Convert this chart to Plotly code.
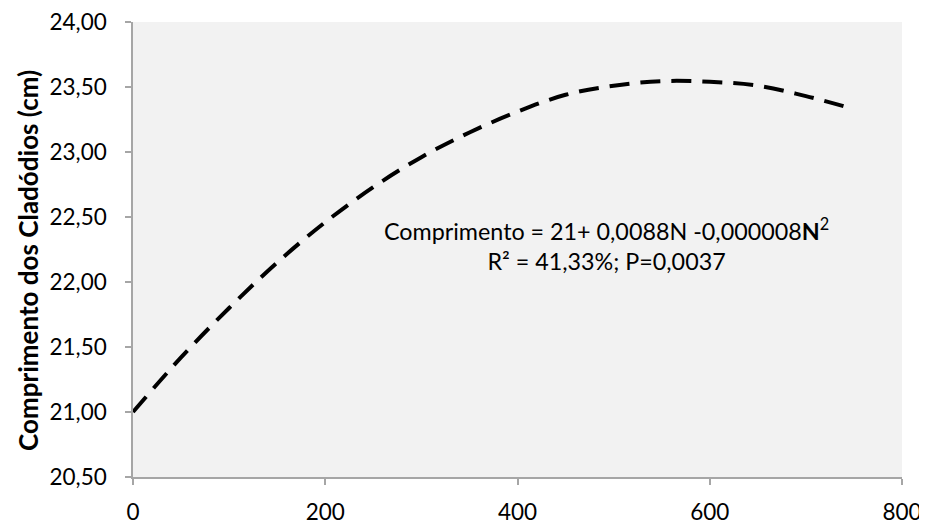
import plotly.graph_objects as go

# Values
n_values = [0, 50, 100, 150, 200, 250, 300, 350, 400, 450, 500, 550, 600, 650, 700, 750]
comprimento = [21.00, 21.42, 21.80, 22.15, 22.46, 22.73, 22.96, 23.15, 23.31, 23.44, 23.51, 23.545, 23.54, 23.51, 23.43, 23.33]

x_ticks = [0, 200, 400, 600, 800]
y_ticks = [20.5, 21.0, 21.5, 22.0, 22.5, 23.0, 23.5, 24.0]

y_title = "Comprimento dos Cladódios (cm)"
equation = "Comprimento = 21+ 0,0088N -0,000008<b>N</b><sup>2</sup><br>R² = 41,33%; P=0,0037"

FONT = "Lato, Carlito, Calibri, sans-serif"

fig = go.Figure()
fig.add_trace(go.Scatter(
    x=n_values, y=comprimento, mode="lines",
    line=dict(color="black", width=4, dash="20px,11px", shape="spline"),
    showlegend=False, hoverinfo="skip",
))

fig.add_annotation(
    x=493, y=22.29, xref="x", yref="y", text=equation, showarrow=False,
    align="center", font=dict(family=FONT, size=23.3, color="black"),
)

# vertical axis title
fig.add_annotation(
    x=0, y=0.475, xref="paper", yref="paper", xshift=-105, text="<b>" + y_title + "</b>",
    textangle=-90, showarrow=False, xanchor="center", yanchor="middle",
    font=dict(family=FONT, size=26, color="black"),
)

axis_common = dict(
    showgrid=False, zeroline=False, showline=True, linecolor="#a6a6a6", linewidth=1.5,
    ticks="outside", ticklen=6, tickcolor="#a6a6a6", tickwidth=1.5, automargin=False,
    ticklabeloverflow="allow",
    tickfont=dict(family=FONT, size=22.5, color="black"),
)

fig.update_xaxes(range=[0, 800], tickvals=x_ticks, ticklabelstandoff=8, **axis_common)
fig.update_yaxes(range=[20.5, 24.0], tickvals=y_ticks, tickformat=".2f", ticklabelstandoff=14,
                 **axis_common)

fig.update_layout(
    width=919, height=520,
    margin=dict(l=125, r=25, t=14, b=51),
    plot_bgcolor="#f2f2f2", paper_bgcolor="white",
    separators=", ",
)

fig.write_html("out.html")
